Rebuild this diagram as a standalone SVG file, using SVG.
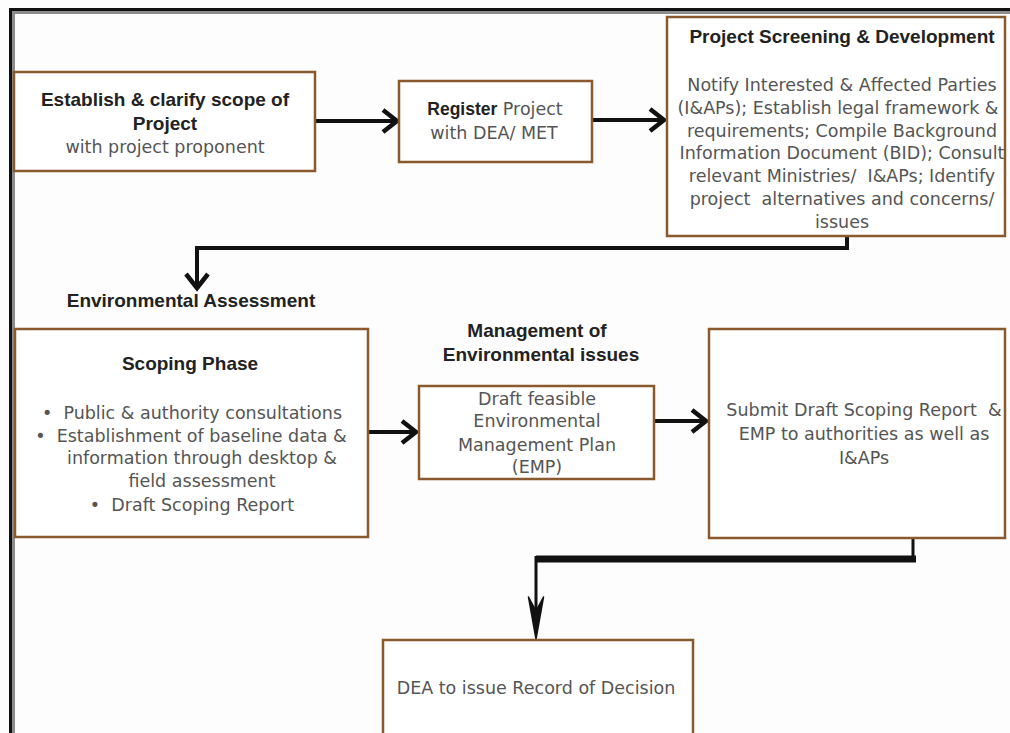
<svg xmlns="http://www.w3.org/2000/svg" width="1010" height="733" viewBox="0 0 1010 733">
  <style>
    .box { fill: #ffffff; stroke: #8a5a2e; stroke-width: 2.5; }
    .t { text-anchor: middle; }
    .b { font-family: "Liberation Sans", Arial, sans-serif; font-weight: bold; fill: #222222; font-size: 19px; }
    .r { font-family: "DejaVu Sans", "Liberation Sans", sans-serif; fill: #555555; font-size: 17.5px; }
    .conn { fill: none; stroke: #111111; stroke-width: 4; }
  </style>
  <defs>
    <marker id="chev" markerUnits="userSpaceOnUse" markerWidth="22" markerHeight="28" viewBox="0 0 22 28" refX="17" refY="14" orient="auto">
      <path d="M3,3 L17,14 L3,25" fill="none" stroke="#111111" stroke-width="4.5" stroke-linejoin="miter"/>
    </marker>
  </defs>
  <rect x="0" y="0" width="1010" height="733" fill="#fdfdfd"/>
  <g id="frame">
    <path d="M10.5,733 V9.5 H1010" fill="none" stroke="#111111" stroke-width="3"/>
    <path d="M13.5,733 V12.5 H1010" fill="none" stroke="#8c8c8c" stroke-width="3"/>
  </g>

  <g id="connectors">
    <line class="conn" x1="316" y1="121" x2="397" y2="121" marker-end="url(#chev)"/>
    <line class="conn" x1="593" y1="120" x2="664" y2="120" marker-end="url(#chev)"/>
    <path class="conn" d="M847,237 V248 H197 V288" stroke-width="3.5" marker-end="url(#chev)"/>
    <line class="conn" x1="369" y1="432" x2="416" y2="432" marker-end="url(#chev)"/>
    <line class="conn" x1="655" y1="421" x2="706" y2="421" marker-end="url(#chev)"/>
    <path d="M913,539 V559" fill="none" stroke="#111111" stroke-width="3"/>
    <path d="M916,559 H536" fill="none" stroke="#111111" stroke-width="7"/>
    <path d="M536,556 V615" fill="none" stroke="#111111" stroke-width="3"/>
    <path d="M536,639 L528.5,597 L536,611 L543.5,597 Z" fill="#111111" stroke="#111111" stroke-width="1.5" stroke-linejoin="round"/>
  </g>

  <g id="node-establish">
    <rect class="box" x="14" y="72" width="301" height="99"/>
    <text class="t b" x="165" y="106">Establish &amp; clarify scope of</text>
    <text class="t b" x="165" y="130">Project</text>
    <text class="t r" x="165" y="153" font-size="17">with project proponent</text>
  </g>

  <g id="node-register">
    <rect class="box" x="399" y="81" width="193" height="81"/>
    <text class="t r" x="495" y="115" font-size="20"><tspan font-family="Liberation Sans, Arial, sans-serif" font-weight="bold" fill="#222222">Register</tspan> Project</text>
    <text class="t r" x="494" y="139" font-size="19.5">with DEA/ MET</text>
  </g>

  <g id="node-screening">
    <rect class="box" x="667" y="17" width="338" height="219"/>
    <text class="t b" x="842" y="43" font-size="20.4">Project Screening &amp; Development</text>
    <text class="t r" x="842" y="91" font-size="16.6">Notify Interested &amp; Affected Parties</text>
    <text class="t r" x="838" y="114" font-size="16.2">(I&amp;APs); Establish legal framework  &amp;</text>
    <text class="t r" x="842" y="137" font-size="16.6">requirements; Compile Background</text>
    <text class="t r" x="842" y="159" font-size="16.2">Information Document (BID); Consult</text>
    <text class="t r" x="842" y="182" font-size="16.6" xml:space="preserve">relevant Ministries/  I&amp;APs; Identify</text>
    <text class="t r" x="842" y="205" font-size="16.6" xml:space="preserve">project  alternatives and concerns/</text>
    <text class="t r" x="842" y="228" font-size="16.6">issues</text>
  </g>

  <g id="label-env-assessment">
    <text class="t b" x="191" y="307">Environmental Assessment</text>
  </g>

  <g id="node-scoping">
    <rect class="box" x="15" y="329" width="353" height="208"/>
    <text class="t b" x="190" y="370" font-size="20">Scoping Phase</text>
    <text class="t r" x="192" y="419" xml:space="preserve">•  Public &amp; authority consultations</text>
    <text class="t r" x="191" y="442" xml:space="preserve">•  Establishment of baseline data &amp;</text>
    <text class="t r" x="202" y="464">information through desktop &amp;</text>
    <text class="t r" x="202" y="487">field assessment</text>
    <text class="t r" x="192" y="511" xml:space="preserve">•  Draft Scoping Report</text>
  </g>

  <g id="label-management">
    <text class="t b" x="537" y="337" font-size="20.5">Management of</text>
    <text class="t b" x="541" y="361" font-size="19">Environmental issues</text>
  </g>

  <g id="node-emp">
    <rect class="box" x="419" y="386" width="235" height="93"/>
    <text class="t r" x="537" y="405" font-size="18">Draft feasible</text>
    <text class="t r" x="537" y="427" font-size="18">Environmental</text>
    <text class="t r" x="537" y="451" font-size="18">Management Plan</text>
    <text class="t r" x="537" y="473" font-size="18">(EMP)</text>
  </g>

  <g id="node-submit">
    <rect class="box" x="709" y="329" width="296" height="209"/>
    <text class="t r" x="864" y="416" font-size="17.8" xml:space="preserve">Submit Draft Scoping Report  &amp;</text>
    <text class="t r" x="864" y="440" font-size="17.8">EMP to authorities as well as</text>
    <text class="t r" x="864" y="464" font-size="17.8">I&amp;APs</text>
  </g>

  <g id="node-decision">
    <rect class="box" x="383" y="640" width="310" height="100"/>
    <text class="t r" x="536" y="694" font-size="16.7">DEA to issue Record of Decision</text>
  </g>
</svg>
